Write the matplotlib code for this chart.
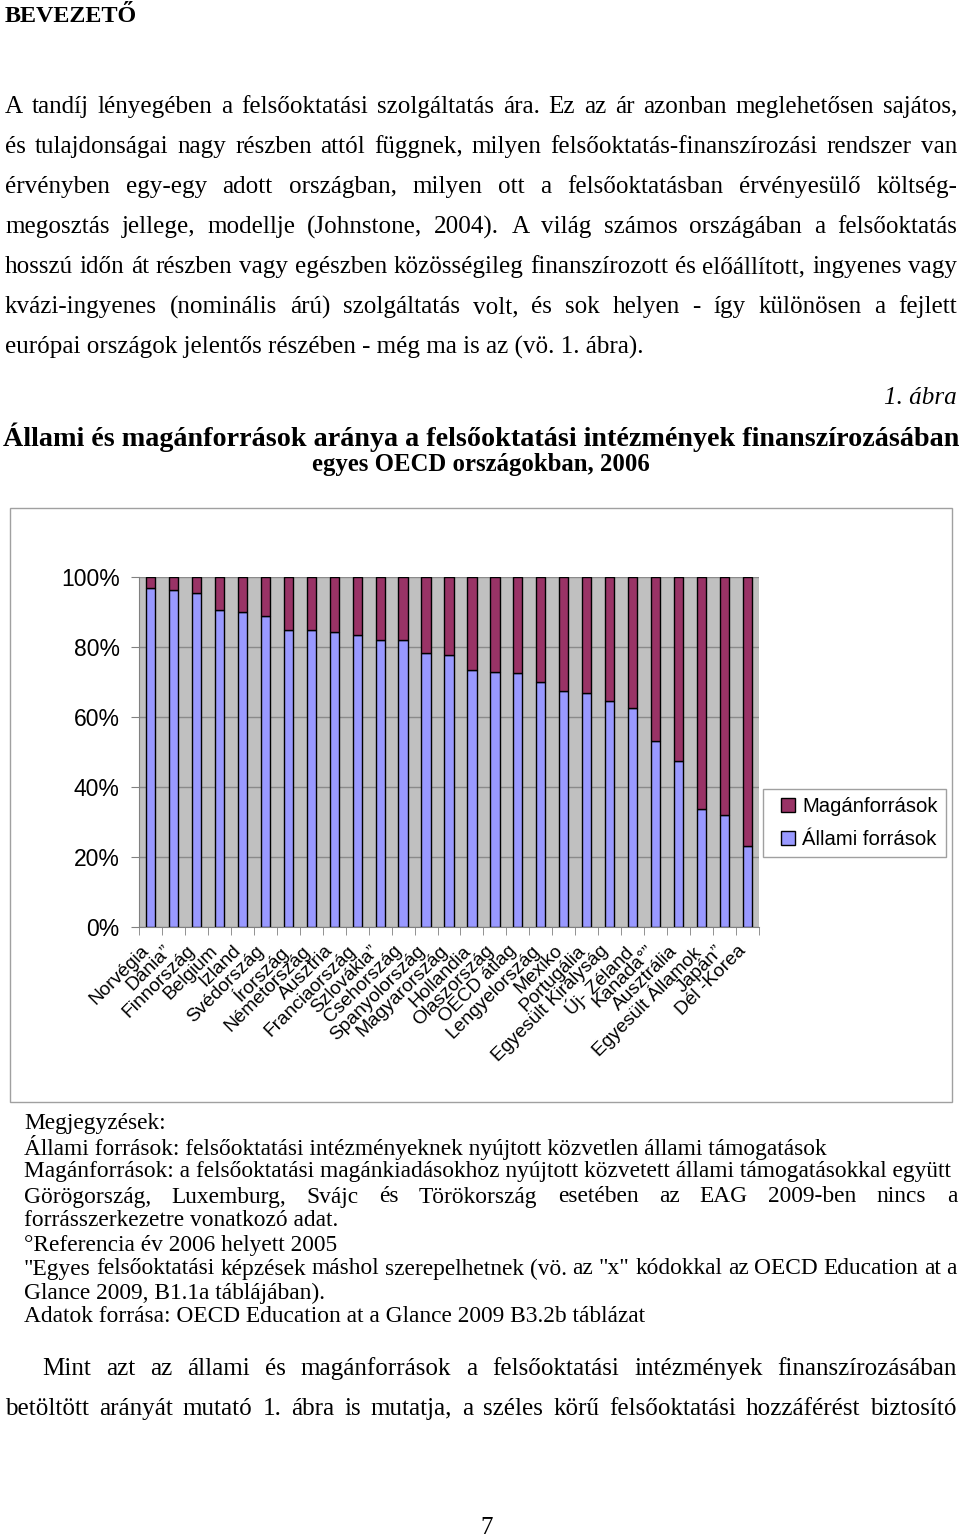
import matplotlib
matplotlib.use('Agg')
import matplotlib.pyplot as plt
from matplotlib.transforms import Affine2D, ScaledTranslation
from matplotlib.patches import Rectangle, Patch
from matplotlib.legend_handler import HandlerPatch
import numpy as np

# ---------------- data ----------------
countries = ["Norvégia", "Dánia”", "Finnország", "Belgium", "Izland", "Svédország",
             "Írország", "Németország", "Ausztria", "Franciaország", "Szlovákia”",
             "Csehország", "Spanyolország", "Magyarország", "Hollandia", "Olaszország",
             "OECD átlag", "Lengyelország", "Mexiko", "Portugália", "Egyesült Királyság",
             "Új- Zéland", "Kanada°”", "Ausztrália", "Egyesült Államok", "Japán”", "Dél -Korea"]
allami = [97.0, 96.2, 95.4, 90.5, 90.1, 88.9, 84.9, 84.9, 84.4, 83.5, 81.9, 81.9, 78.2,
          77.8, 73.4, 72.9, 72.5, 70.0, 67.5, 66.8, 64.7, 62.7, 53.2, 47.5, 33.7, 32.0, 23.1]
magan = [3.0, 3.8, 4.6, 9.5, 9.9, 11.1, 15.1, 15.1, 15.6, 16.5, 18.1, 18.1, 21.8,
         22.2, 26.6, 27.1, 27.5, 30.0, 32.5, 33.2, 35.3, 37.3, 46.8, 52.5, 66.3, 68.0, 76.9]
ytick_vals = [0, 20, 40, 60, 80, 100]
ytick_labels = ["0%", "20%", "40%", "60%", "80%", "100%"]
series_names = ["Magánforrások", "Állami források"]

heading = "BEVEZETŐ"
para1 = [
    "A tandíj lényegében a felsőoktatási szolgáltatás ára. Ez az ár azonban meglehetősen sajátos,",
    "és tulajdonságai nagy részben attól függnek, milyen felsőoktatás-finanszírozási rendszer van",
    "érvényben egy-egy adott országban, milyen ott a felsőoktatásban érvényesülő költség-",
    "megosztás jellege, modellje (Johnstone, 2004). A világ számos országában a felsőoktatás",
    "hosszú időn át részben vagy egészben közösségileg finanszírozott és előállított, ingyenes vagy",
    "kvázi-ingyenes (nominális árú) szolgáltatás volt, és sok helyen - így különösen a fejlett",
]
para1_last = "európai országok jelentős részében - még ma is az (vö. 1. ábra)."
fig_label = "1. ábra"
title = "Állami és magánforrások aránya a felsőoktatási intézmények finanszírozásában"
subtitle = "egyes OECD országokban, 2006"
notes = [
    ("Megjegyzések:", False),
    ("Állami források: felsőoktatási intézményeknek nyújtott közvetlen állami támogatások", False),
    ("Magánforrások: a felsőoktatási magánkiadásokhoz nyújtott közvetett állami támogatásokkal együtt", False),
    ("Görögország, Luxemburg, Svájc és Törökország esetében az EAG 2009-ben nincs a", True),
    ("forrásszerkezetre vonatkozó adat.", False),
    ("°Referencia év 2006 helyett 2005", False),
    ("\"Egyes felsőoktatási képzések máshol szerepelhetnek (vö. az \"x\" kódokkal az OECD Education at a", True),
    ("Glance 2009, B1.1a táblájában).", False),
    ("Adatok forrása: OECD Education at a Glance 2009 B3.2b táblázat", False),
]
para2 = [
    "Mint azt az állami és magánforrások a felsőoktatási intézmények finanszírozásában",
    "betöltött arányát mutató 1. ábra is mutatja, a széles körű felsőoktatási hozzáférést biztosító",
]
page_no = "7"

# ---------------- figure ----------------
W, H = 960, 1538
plt.rcParams['font.family'] = ['Liberation Sans', 'DejaVu Sans']
fig = plt.figure(figsize=(W / 100, H / 100), dpi=100)
fig.patch.set_facecolor('white')
T = Affine2D().scale(1 / W, -1 / H).translate(0, 1) + fig.transFigure
renderer = fig.canvas.get_renderer()
SERIF = ['Liberation Serif', 'DejaVu Serif']


def measure(s, size, **kw):
    t = fig.text(0, 0, s, fontsize=size, family=SERIF, **kw)
    w = t.get_window_extent(renderer).width
    t.remove()
    return w


def put(s, x, y, size, ha='left', **kw):
    return fig.text(x, y, s, transform=T, fontsize=size, ha=ha, va='center', family=SERIF, **kw)


def justify(s, x0, x1, y, size, **kw):
    words = [w for w in s.split(' ') if w]
    while True:
        ts = [fig.text(0, y, w, transform=T, fontsize=size, ha='left', va='center',
                       family=SERIF, **kw) for w in words]
        ws = [t.get_window_extent(renderer).width for t in ts]
        gap = (x1 - x0 - sum(ws)) / (len(ws) - 1)
        if gap >= 0.2 * size * 100 / 72 or size < 6:
            break
        for t in ts:
            t.remove()
        size *= 0.98
    x = x0
    for t, w in zip(ts, ws):
        t.set_x(x)
        x += w + gap


body_size = 16 * 640 / measure(para1_last, 16)
notes_size = 13 * 921 / measure(notes[2][0], 13)
title_size = 18 * 952 / measure(title, 18, weight='bold')
head_size = 15 * 133 / measure(heading, 15, weight='bold')

put(heading, 5, 17, head_size, weight='bold')
for i, line in enumerate(para1):
    justify(line, 5, 957, 107 + 40 * i, body_size)
put(para1_last, 5, 107 + 40 * 6, body_size)
put(fig_label, 957, 398, body_size, ha='right', style='italic')
put(title, 481, 437, title_size, ha='center', weight='bold')
put(subtitle, 481, 465, title_size * 0.88, ha='center', weight='bold')

ny = [1124, 1148, 1172, 1197, 1220, 1245, 1269, 1293, 1317]
for (line, just), y in zip(notes, ny):
    if just:
        justify(line, 24, 957, y, notes_size)
    else:
        put(line, 24, y, notes_size)

justify(para2[0], 42, 957, 1369, body_size)
justify(para2[1], 5, 957, 1409, body_size)
put(page_no, 487, 1528, body_size, ha='center')

# chart frame
fig.add_artist(Rectangle((10, 508), 942, 594, transform=T, fill=False,
                         edgecolor='#a0a0a0', lw=1))

# ---------------- chart ----------------
ax = fig.add_axes([139 / W, 1 - 927 / H, 620 / W, 350 / H])
x = np.arange(len(countries))
blue, maroon = '#9999FF', '#993366'
ax.bar(x, allami, width=0.4, color=blue, edgecolor='black', lw=1, zorder=3)
ax.bar(x, magan, bottom=allami, width=0.4, color=maroon, edgecolor='black', lw=1, zorder=3)
ax.set_xlim(-0.5, len(countries) - 0.5)
ax.set_ylim(0, 100)
ax.set_facecolor('#C0C0C0')
ax.set_yticks(ytick_vals, ytick_labels)
ax.yaxis.grid(True, color='#8a8a8a', lw=1)
ax.set_axisbelow(True)
for s in ['top', 'right']:
    ax.spines[s].set_visible(False)
for s in ['left', 'bottom']:
    ax.spines[s].set_color('#808080')
ax.tick_params(axis='y', length=6, color='#808080', pad=8, labelsize=16.5)
ax.set_xticks(x, countries)
ax.set_xticks(np.arange(-0.5, len(countries), 1), minor=True)
ax.tick_params(axis='x', which='major', length=0, pad=11, labelsize=13.8)
ax.tick_params(axis='x', which='minor', length=6, color='#808080')
off = ScaledTranslation(-10 / 100, 0, fig.dpi_scale_trans)
for lbl in ax.get_xticklabels():
    lbl.set_rotation(45)
    lbl.set_ha('right')
    lbl.set_va('top')
    lbl.set_rotation_mode('anchor')
    lbl.set_transform(lbl.get_transform() + off)

handles = [Patch(facecolor=maroon, edgecolor='black', lw=1),
           Patch(facecolor=blue, edgecolor='black', lw=1)]
leg = ax.legend(handles, series_names, loc='upper left',
                bbox_to_anchor=(763 / W, 1 - 789 / H), bbox_transform=fig.transFigure,
                frameon=True, fancybox=False, edgecolor='#a0a0a0', framealpha=1,
                fontsize=14.6, borderpad=0.4, labelspacing=0.7, handlelength=1.17,
                handleheight=0.67, handletextpad=0.36, borderaxespad=0,
                handler_map={Patch: HandlerPatch(xpad=0.5)})
leg.get_frame().set_linewidth(1)

fig.savefig('out.png', dpi=100, facecolor='white')
